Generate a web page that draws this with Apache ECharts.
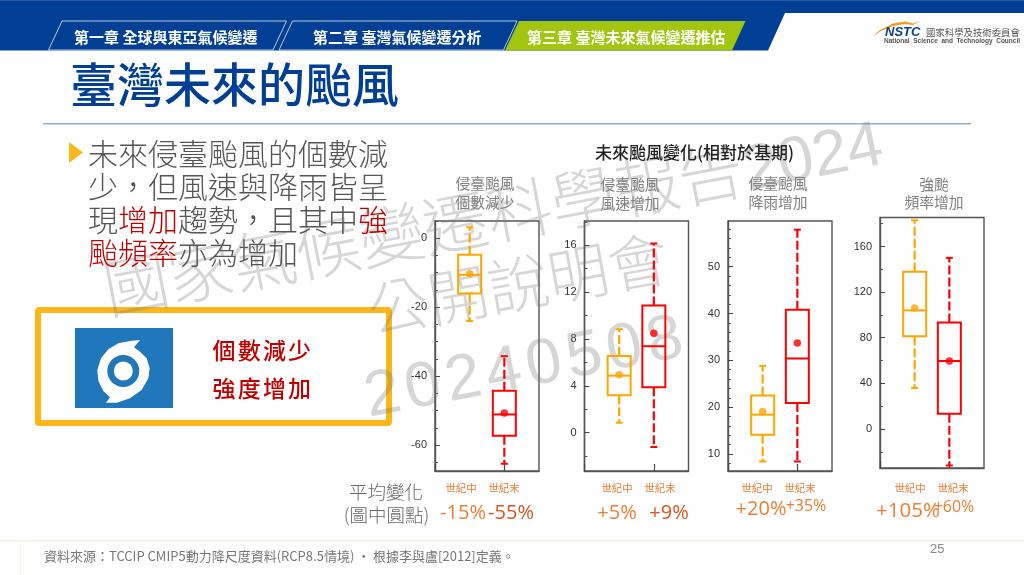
<!DOCTYPE html>
<html lang="zh-TW">
<head>
<meta charset="utf-8">
<style>html,body{margin:0;padding:0;background:#fff}#c{width:1024px;height:575px}</style>
<script src="https://cdn.jsdelivr.net/npm/echarts@6/dist/echarts.min.js"></script>
</head>
<body>
<div id="c" lang="zh-TW"></div>
<script>
// ---- chart data: [low whisker, Q1, median, Q3, high whisker] ----
const categories = ['', '世紀中', '世紀末', ''];
const countMid = [-24, -16, -10.6, -4.8, 3.2];
const countEnd = [-65.4, -57.3, -51.1, -44.2, -34.2];
const countMeans = [-10.3, -50.7];
const windMid = [0.85, 3.2, 4.87, 6.55, 8.83];
const windEnd = [-1.22, 3.87, 7.38, 10.85, 16.15];
const windMeans = [4.95, 8.49];
const rainMid = [8.4, 14.1, 18.4, 22.5, 28.8];
const rainEnd = [8.4, 20.9, 30.4, 40.8, 57.9];
const rainMeans = [19.1, 33.7];
const strongMid = [35.9, 81.2, 104, 137.8, 183];
const strongEnd = [-32, 13.4, 59.6, 93.4, 150];
const strongMeans = [106, 59.6];
const countTicks = [0, -20, -40, -60];
const windTicks = [0, 4, 8, 12, 16];
const rainTicks = [10, 20, 30, 40, 50];
const strongTicks = [0, 40, 80, 120, 160];
const panelTitles = [['侵臺颱風', '個數減少'], ['侵臺颱風', '風速增加'], ['侵臺颱風', '降雨增加'], ['強颱', '頻率增加']];
const avgLabels = [['-15%', '-55%'], ['+5%', '+9%'], ['+20%', '+35%'], ['+105%', '+60%']];

// ---- layout ----
const CJK = '"Noto Sans CJK TC","Noto Sans CJK JP",sans-serif';
const LAT = '"Liberation Sans","Noto Sans CJK TC",sans-serif';
const ORANGE = '#FFA500', RED = '#FF0000';
const panels = [
  { left: 435, top: 221, width: 104, height: 250, min: -67.5, max: 5, ticks: countTicks, step: 5, mid: countMid, end: countEnd, means: countMeans },
  { left: 584.5, top: 221, width: 104, height: 250, min: -3.27, max: 18.07, ticks: windTicks, step: 2, mid: windMid, end: windEnd, means: windMeans },
  { left: 728, top: 221, width: 104, height: 250, min: 6.37, max: 59.75, ticks: rainTicks, step: 2, mid: rainMid, end: rainEnd, means: rainMeans },
  { left: 880, top: 217.5, width: 104, height: 250.5, min: -34.2, max: 185.4, ticks: strongTicks, step: 20, mid: strongMid, end: strongEnd, means: strongMeans }
];

function minorValues(p) {
  const out = [];
  const start = Math.ceil(p.min / p.step) * p.step;
  for (let v = start; v <= p.max; v += p.step) if (p.ticks.indexOf(v) < 0) out.push(v);
  return out;
}

function renderBox(params, api) {
  const cat = api.value(0);
  const c = v => api.coord([cat, v]);
  const color = api.value(6) === 1 ? ORANGE : RED;
  const low = c(api.value(1)), q1 = c(api.value(2)), med = c(api.value(3)), q3 = c(api.value(4)), high = c(api.value(5));
  const x = low[0], hw = 11.5, cap = 3.5;
  const line = (x1, y1, x2, y2, dash, w) => ({
    type: 'line', shape: { x1, y1, x2, y2 },
    style: { stroke: color, lineWidth: w || 2, lineDash: dash || null, fill: null }
  });
  return {
    type: 'group',
    children: [
      line(x, q3[1], x, high[1], [9, 3], 2.2),
      line(x, q1[1], x, low[1], [9, 3], 2.2),
      line(x - cap, high[1], x + cap, high[1]),
      line(x - cap, low[1], x + cap, low[1]),
      { type: 'rect', shape: { x: x - hw, y: q3[1], width: hw * 2, height: q1[1] - q3[1] },
        style: { stroke: color, lineWidth: 2, fill: 'transparent' } },
      line(x - hw, med[1], x + hw, med[1])
    ]
  };
}

const grid = [], xAxis = [], yAxis = [], series = [];
panels.forEach((p, i) => {
  grid.push({ left: p.left, top: p.top, width: p.width, height: p.height, show: true, borderColor: '#555', borderWidth: 1.4, backgroundColor: 'transparent' });
  xAxis.push({
    type: 'category', gridIndex: i, data: categories, boundaryGap: false,
    axisLine: { onZero: false, lineStyle: { color: '#555', width: 1.4 } },
    axisTick: { inside: true, length: 7, lineStyle: { color: '#444', width: 1.2 } },
    axisLabel: { show: false }, splitLine: { show: false }
  });
  yAxis.push({
    type: 'value', gridIndex: i, min: p.min, max: p.max, position: 'left',
    axisLine: { show: true, onZero: false, lineStyle: { color: '#555', width: 1.4 } },
    axisTick: { show: true, inside: true, length: 5, customValues: p.ticks, lineStyle: { color: '#444', width: 1 } },
    axisLabel: { show: true, customValues: p.ticks, margin: 8, fontSize: 11, color: '#333', fontFamily: LAT },
    splitLine: { show: false }
  });
  yAxis.push({
    type: 'value', gridIndex: i, min: p.min, max: p.max, position: 'left',
    axisLine: { show: false },
    axisTick: { show: true, inside: true, length: 3, customValues: minorValues(p), lineStyle: { color: '#555', width: 1 } },
    axisLabel: { show: false }, splitLine: { show: false }
  });
  const xi = i, yi = i * 2;
  series.push({
    type: 'custom', xAxisIndex: xi, yAxisIndex: yi, renderItem: renderBox, silent: true, clip: false, z: 3,
    encode: { x: 0, y: [1, 2, 3, 4, 5] },
    data: [[1, ...p.mid, 1], [2, ...p.end, 2]]
  });
  series.push({
    type: 'scatter', xAxisIndex: xi, yAxisIndex: yi, symbol: 'circle', symbolSize: 7.5, silent: true, z: 4,
    data: [{ value: [1, p.means[0]], itemStyle: { color: ORANGE } }, { value: [2, p.means[1]], itemStyle: { color: RED } }]
  });
});

// ---- slide furniture ----
const g = [];
const txt = (text, x, y, size, color, extra) => ({
  type: 'text', x, y, z: (extra && extra.z) || 5, rotation: (extra && extra.rotation) || 0,
  style: {
    text, fontSize: size, fill: color, fontFamily: (extra && extra.font) || CJK,
    fontWeight: (extra && extra.weight) || 'normal', fontStyle: (extra && extra.italic) || 'normal',
    align: (extra && extra.align) || 'left', verticalAlign: 'middle', rich: extra && extra.rich
  }
});

// header band
g.push({ type: 'polygon', z: 1, shape: { points: [[0, 0], [1024, 0], [1024, 13], [785, 13], [768, 50.5], [0, 50.5]] }, style: { fill: '#003F94' } });
g.push({ type: 'rect', z: 1, shape: { x: 0, y: 0, width: 1024, height: 1 }, style: { fill: '#2F5CA5' } });
g.push({ type: 'polygon', z: 2, shape: { points: [[48.5, 50], [62, 21], [286.5, 21], [273, 50]] }, style: { fill: 'none', stroke: '#B9C9E2', lineWidth: 1 } });
g.push({ type: 'polygon', z: 2, shape: { points: [[279, 50], [292.5, 21], [517, 21], [503.5, 50]] }, style: { fill: 'none', stroke: '#B9C9E2', lineWidth: 1 } });
g.push({ type: 'polygon', z: 2, shape: { points: [[519, 21], [745.5, 21], [732, 50.5], [505, 50.5]] }, style: { fill: '#A2C510' } });
g.push(txt('第一章 全球與東亞氣候變遷', 74, 37, 15, '#fff', { weight: 'bold' }));
g.push(txt('第二章 臺灣氣候變遷分析', 313, 37, 15, '#fff', { weight: 'bold' }));
g.push(txt('第三章 臺灣未來氣候變遷推估', 527, 37, 15, '#fff', { weight: 'bold' }));

// logo
g.push({ type: 'polygon', z: 2, shape: { points: [[872, 37], [880, 30], [893, 23.5], [905, 21.5], [913, 23.5], [920, 21], [913, 25], [905, 24], [893, 26], [881, 31]] }, style: { fill: '#F39A1E' } });
g.push(txt('NSTC', 885, 32.5, 13, '#0B3E8C', { weight: 'bold', italic: 'italic', font: LAT }));
g.push(txt('國家科學及技術委員會', 926, 32.5, 9.4, '#555'));
g.push(txt('National  Science  and  Technology  Council', 884, 41.5, 6.5, '#555', { weight: 'bold', font: LAT }));

// slide title + rule
g.push(txt('臺灣未來的颱風', 70, 84, 47, '#003F94', { weight: 500 }));
g.push({ type: 'rect', z: 1, shape: { x: 43, y: 123, width: 928, height: 1.5 }, style: { fill: '#8FAFD7' } });

// bullet
g.push({ type: 'polygon', z: 5, shape: { points: [[69, 142], [83, 152.5], [69, 163]] }, style: { fill: '#FBB618' } });
const bodyRich = { r: { fill: '#C00000', fontSize: 30, fontFamily: CJK, fontWeight: 300 } };
g.push(txt('未來侵臺颱風的個數減', 88, 153.5, 30, '#555', { weight: 300 }));
g.push(txt('少，但風速與降雨皆呈', 88, 186.5, 30, '#555', { weight: 300 }));
g.push(txt('現{r|增加}趨勢，且其中{r|強}', 88, 219.5, 30, '#555', { rich: bodyRich, weight: 300 }));
g.push(txt('{r|颱頻率}亦為增加', 88, 253, 30, '#555', { rich: bodyRich, weight: 300 }));

// call-out box
g.push({ type: 'rect', z: 1, shape: { x: 38, y: 310, width: 351, height: 113, r: 1 }, style: { fill: '#fff', stroke: '#FBB618', lineWidth: 6 } });
g.push({ type: 'rect', z: 2, shape: { x: 75, y: 328, width: 98, height: 80 }, style: { fill: '#2077B9' } });
const zx = a => [a[0] / 3, 290 + a[1] / 3];
g.push({ type: 'polygon', z: 3, shape: { points: [[420, 150], [390, 153], [355, 160], [325, 178], [303, 205], [292, 240], [295, 272], [310, 303], [330, 322], [318, 338], [350, 338], [390, 325], [425, 300], [445, 265], [449, 235], [440, 205], [420, 185], [402, 172]].map(zx) }, style: { fill: '#fff' } });
g.push({ type: 'circle', z: 3, shape: { cx: 123.3, cy: 371, r: 16 }, style: { fill: '#2077B9' } });
g.push({ type: 'circle', z: 3, shape: { cx: 123.3, cy: 371, r: 9.5 }, style: { fill: '#fff' } });
function spaced(chars, x0, y0, step, size, color, angle, extra) {
  Array.from(chars).forEach((ch, i) => {
    g.push(txt(ch, x0 + i * step * Math.cos(angle), y0 - i * step * Math.sin(angle), size, color,
      Object.assign({ align: 'center', rotation: angle }, extra || {})));
  });
}
spaced('個數減少', 224, 350.5, 25.2, 23, '#C00000', 0, { weight: 500 });
spaced('強度增加', 224, 388.5, 25.2, 23, '#C00000', 0, { weight: 500 });

// watermark
const WM = 'rgba(120,120,120,0.3)';
g.push(txt('國家氣候變遷科學報告', 104, 290, 65, WM, { rotation: 0.19, z: 2, weight: 300 }));
spaced('2024', 762, 170, 35, 64, WM, 0.2, { z: 2, font: LAT });
g.push(txt('公開說明會', 368, 311, 61, WM, { rotation: 0.18, z: 2, weight: 300 }));
spaced('20240508', 383, 396, 41, 64, WM, 0.19, { z: 2, font: LAT });

// chart heading and panel captions
g.push(txt('未來颱風變化(相對於基期)', 595, 153, 17, '#222', { weight: 500 }));
const titleX = [485, 630, 778, 934], titleY = [[183, 202], [184.5, 203.5], [183, 202], [184, 202]];
panelTitles.forEach((lines, i) => lines.forEach((s, j) => g.push(txt(s, titleX[i], titleY[i][j], 14.8, '#808080', { align: 'center' }))));
const labelX = [[461, 504], [617, 660], [757, 800], [910, 953]];
labelX.forEach(xs => xs.forEach((x, j) => g.push(txt(categories[j + 1], x, 488, 10.4, '#ED7D31', { align: 'center' }))));

// mean change labels
const avgX = [[463, 511], [617, 669], [761, 806], [908, 954]];
const avgY = [[513, 513], [513, 513], [509, 506], [511, 507]];
const avgSize = [[20, 20], [20, 20], [20, 16], [20.5, 16]];
avgLabels.forEach((pair, i) => pair.forEach((s, j) => g.push(txt(s, avgX[i][j], avgY[i][j], avgSize[i][j], j === 0 || i > 1 ? '#ED7D31' : '#D9541E', { align: 'center', font: '"Open Sans","Liberation Sans",sans-serif' }))));
g.push(txt('平均變化', 386, 492, 18.5, '#666', { align: 'center', weight: 300 }));
g.push(txt('(圖中圓點)', 386.5, 515, 18.5, '#666', { align: 'center', weight: 300 }));

// footer
g.push({ type: 'rect', z: 1, shape: { x: 0, y: 540, width: 1024, height: 1.5 }, style: { fill: '#F3F3DC' } });
g.push({ type: 'rect', z: 1, shape: { x: 20, y: 541, width: 1, height: 34 }, style: { fill: '#F5F5E4' } });
g.push(txt('資料來源：TCCIP CMIP5動力降尺度資料(RCP8.5情境) · 根據李與盧[2012]定義。', 44, 556, 13, '#777'));
g.push(txt('25', 930, 549, 13, '#888', { font: LAT }));

const chart = echarts.init(document.getElementById('c'), null, { renderer: 'canvas' });
chart.setOption({
  animation: false, backgroundColor: '#fff',
  grid, xAxis, yAxis, series,
  graphic: { elements: g }
});
</script>
</body>
</html>
